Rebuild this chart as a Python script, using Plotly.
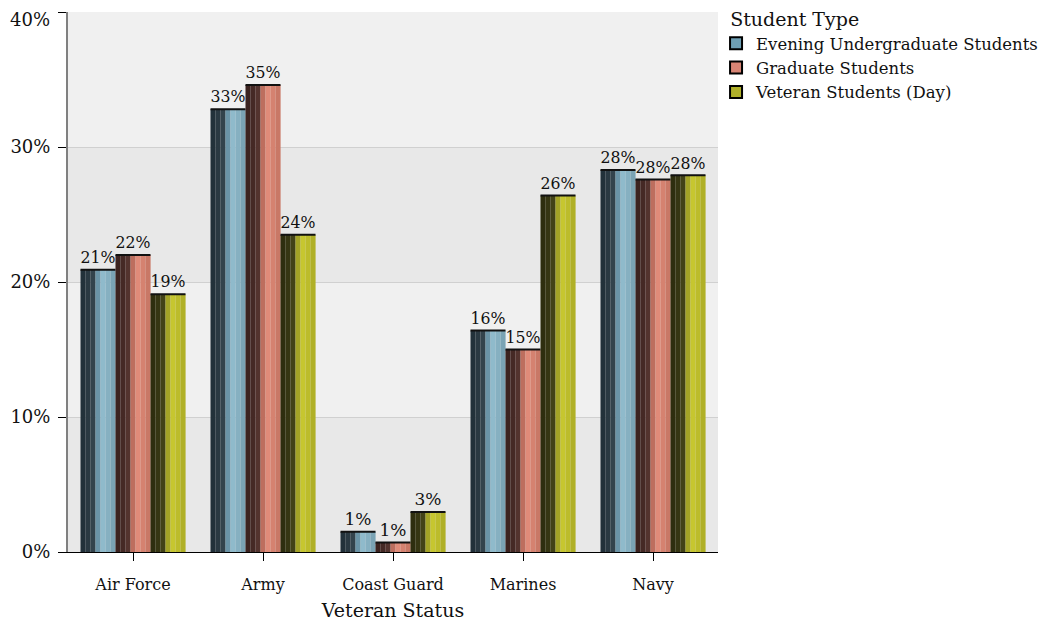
import plotly.graph_objects as go

categories = ["Air Force", "Army", "Coast Guard", "Marines", "Navy"]
series_names = ["Evening Undergraduate Students", "Graduate Students", "Veteran Students (Day)"]
evening = [20.9, 32.8, 1.5, 16.4, 28.3]
graduate = [22.0, 34.6, 0.7, 15.0, 27.6]
veteran = [19.1, 23.5, 2.96, 26.4, 27.9]
labels_evening = ["21%", "33%", "1%", "16%", "28%"]
labels_graduate = ["22%", "35%", "1%", "15%", "28%"]
labels_veteran = ["19%", "24%", "3%", "26%", "28%"]
y_ticks = [0, 10, 20, 30, 40]
y_tick_text = ["0%", "10%", "20%", "30%", "40%"]

FONT = "DejaVu Serif"
series = [
    (series_names[0], evening, labels_evening,
     ["#22313a", "#2a3942", "#33434c", "#6a93a6", "#8fbacb", "#86b0c1", "#7aa3b4"], "#6e9fb4"),
    (series_names[1], graduate, labels_graduate,
     ["#3c2320", "#452925", "#53332e", "#bd6e5e", "#e08b79", "#d58270", "#c97866"], "#d88474"),
    (series_names[2], veteran, labels_veteran,
     ["#2e2e0f", "#363613", "#424217", "#a3a326", "#c6c62f", "#bcbc2b", "#b0b027"], "#b0b02a"),
]

bw = 35 / 130
start = -1.5 * bw
nstrip = 7
sw = bw / nstrip

fig = go.Figure()
for i, (name, vals, labs, cols, legcol) in enumerate(series):
    for k, c in enumerate(cols):
        fig.add_trace(go.Bar(
            x=categories, y=vals, width=sw * 1.02, offset=start + i * bw + k * sw,
            marker=dict(color=c, line=dict(width=0)), showlegend=False,
            hoverinfo="skip"))
    fig.add_trace(go.Bar(
        x=categories, y=vals, width=bw, offset=start + i * bw,
        marker=dict(color="rgba(0,0,0,0)", line=dict(width=0)),
        text=labs, textposition="outside", cliponaxis=False,
        textfont=dict(family=FONT, size=17, color="#111"),
        error_y=dict(type="data", array=[0] * len(vals), width=17.5, thickness=2, color="#111"),
        showlegend=False, name=name))

for i, (name, vals, labs, cols, legcol) in enumerate(series):
    fig.add_trace(go.Bar(
        x=[categories[0]], y=[None], name=name,
        marker=dict(color=legcol, line=dict(color="#000", width=2))))

bands = [(0, 10, "#e8e8e8"), (10, 20, "#f0f0f0"), (20, 30, "#e8e8e8"), (30, 40, "#f0f0f0")]
for y0, y1, c in bands:
    fig.add_shape(type="rect", xref="paper", yref="y", x0=0, x1=1, y0=y0, y1=y1,
                  fillcolor=c, line=dict(width=0), layer="below")

# top tick label is nudged down inside the figure (as in the reference)
shown_text = y_tick_text[:-1] + [""]
fig.add_annotation(xref="paper", yref="y", x=0, y=y_ticks[-1], text=y_tick_text[-1],
                   showarrow=False, xanchor="right", yanchor="middle",
                   xshift=-16, yshift=-7, font=dict(family=FONT, size=18, color="#111"))

fig.update_layout(
    width=1040, height=619,
    barmode="overlay",
    paper_bgcolor="white", plot_bgcolor="white",
    margin=dict(l=60, r=330, t=4, b=75, autoexpand=False),
    font=dict(family=FONT, size=16, color="#111"),
    legend=dict(title=dict(text="\u00a0\u00a0Student Type", font=dict(family=FONT, size=19)),
                x=0.997, xanchor="left", y=1.02, yanchor="top",
                bgcolor="rgba(0,0,0,0)",
                font=dict(family=FONT, size=16.5), traceorder="normal",
                itemsizing="constant", tracegroupgap=0),
    xaxis=dict(type="category", categoryorder="array", categoryarray=categories,
               range=[-0.5, 4.5], automargin=False,
               showline=True, linecolor="#000", linewidth=1,
               ticks="outside", ticklen=8, tickcolor="#000",
               ticklabelstandoff=10,
               tickfont=dict(family=FONT, size=16),
               title=dict(text="Veteran Status", font=dict(family=FONT, size=19), standoff=10),
               showgrid=False),
    yaxis=dict(range=[0, 40], tickmode="array", tickvals=y_ticks, ticktext=shown_text,
               automargin=False,
               showline=True, linecolor="#808080", linewidth=2,
               ticks="outside", ticklen=8, tickcolor="#000",
               ticklabelstandoff=4,
               tickfont=dict(family=FONT, size=18),
               showgrid=True, gridcolor="#d0d0d0", gridwidth=1, zeroline=False),
)

fig.write_html("out.html")
